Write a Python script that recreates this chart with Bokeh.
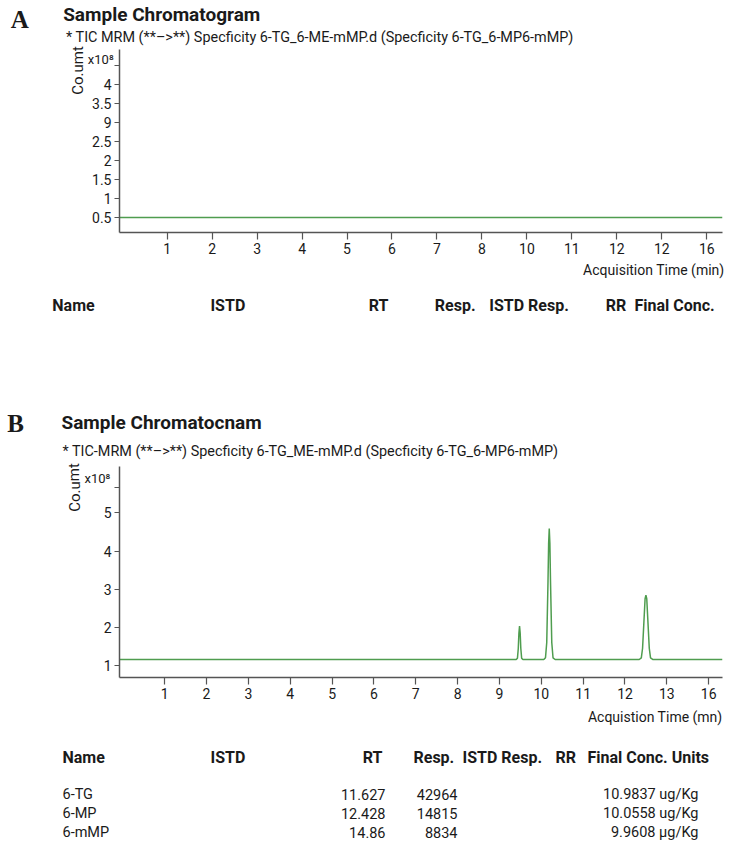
from bokeh.plotting import figure
from bokeh.models import Range1d, FixedTicker
from bokeh.layouts import column
from bokeh.core.properties import value
from bokeh.embed import file_html
from bokeh.resources import INLINE

SANS = "Roboto"
SERIF = "Liberation Serif"
TRACE = "#4f9d4f"
AXIS = "#555555"
INK = "#1a1a1a"

# ---------------- panel A: blank chromatogram ----------------
a_trace_t = [-0.06, 13.35]
a_trace_v = [0.5, 0.5]
a_xticks = [1, 2, 3, 4, 5, 6, 7, 8, 9, 10, 11, 12, 13]
a_xlabels = ["1", "2", "3", "4", "5", "6", "7", "8", "10", "11", "12", "12", "16"]
a_yticks = [0.5, 1, 1.5, 2, 2.5, 3, 3.5, 4, 4.5]
a_ylabels = ["0.5", "1", "1.5", "2", "2.5", "9", "3.5", "4", ""]
a_title = "Sample Chromatogram"
a_sub = "* TIC MRM (**\u2013>**) Specficity 6-TG_6-ME-mMP.d (Specficity 6-TG_6-MP6-mMP)"
a_xlabel = "Acquisition Time (min)"
a_cols = ["Name", "ISTD", "RT", "Resp.", "ISTD Resp.", "RR", "Final Conc."]

# ---------------- panel B: spiked sample chromatogram ----------------
b_trace_t = [-0.08,
             9.40, 9.43, 9.45, 9.465, 9.48, 9.495, 9.51, 9.53, 9.56,
             10.06, 10.10, 10.13, 10.16, 10.175, 10.19, 10.205, 10.22, 10.25, 10.28, 10.33,
             12.34, 12.39, 12.42, 12.45, 12.48, 12.50, 12.52, 12.55, 12.58, 12.61, 12.67,
             14.33]
b_trace_v = [1.155,
             1.155, 1.19, 1.45, 1.85, 2.03, 1.85, 1.45, 1.19, 1.155,
             1.155, 1.20, 1.60, 3.20, 4.20, 4.59, 4.20, 3.20, 1.60, 1.20, 1.155,
             1.155, 1.20, 1.45, 2.10, 2.75, 2.84, 2.75, 2.10, 1.45, 1.20, 1.155,
             1.155]
b_xticks = [1, 2, 3, 4, 5, 6, 7, 8, 9, 10, 11, 12, 13, 14]
b_xlabels = ["1", "2", "3", "4", "5", "6", "7", "8", "9", "10", "11", "12", "13", "16"]
b_yticks = [1, 2, 3, 4, 5, 5.68]
b_ylabels = ["1", "2", "3", "4", "5", ""]
b_title = "Sample Chromatocnam"
b_sub = "* TIC-MRM (**\u2013>**) Specficity 6-TG_ME-mMP.d (Specficity 6-TG_6-MP6-mMP)"
b_xlabel = "Acquistion Time (mn)"
b_cols = ["Name", "ISTD", "RT", "Resp.", "ISTD Resp.", "RR", "Final Conc. Units"]

# quantitation results
names = ["6-TG", "6-MP", "6-mMP"]
rt = ["11.627", "12.428", "14.86"]
resp = [42964, 14815, 8834]
final_conc = ["10.9837", "10.0558", "9.9608"]
units = ["ug/Kg", "ug/Kg", "\u00b5g/Kg"]


def make_panel(height, frame, x_rng, y_rng, xticks, xlabels, yticks, ylabels, t, v):
    left, right, top, bottom, offset = frame
    p = figure(width=750, height=height, output_backend="svg", toolbar_location=None,
               x_range=Range1d(*x_rng), y_range=Range1d(*y_rng),
               min_border_left=left, min_border_right=750 - right,
               min_border_top=top - offset, min_border_bottom=offset + height - bottom)
    # page-pixel coordinate system for the texts around the plot area
    p.extra_x_ranges = {"px": Range1d(left, right)}
    p.extra_y_ranges = {"px": Range1d(bottom, top)}
    p.outline_line_color = None
    p.grid.visible = False
    for ax, ticks, labels, out in ((p.xaxis[0], xticks, xlabels, 7), (p.yaxis[0], yticks, ylabels, 5)):
        ax.ticker = FixedTicker(ticks=ticks)
        ax.major_label_overrides = {tk: lb for tk, lb in zip(ticks, labels)}
        ax.axis_line_color = AXIS
        ax.axis_line_width = 1.5
        ax.major_tick_line_color = AXIS
        ax.major_tick_line_width = 1.2
        ax.major_tick_out = out
        ax.major_tick_in = 0
        ax.minor_tick_line_color = None
        ax.major_label_text_font = SANS
        ax.major_label_text_font_size = "14px"
        ax.major_label_text_color = INK
        ax.major_label_standoff = 3
    p.line(t, v, line_color=TRACE, line_width=1.5)
    return p


def put(p, text, x, y, size="13px", style="normal", align="left", font=SANS, angle=0.0):
    r = p.text(x=[x], y=[y], text=[text], x_range_name="px", y_range_name="px",
               text_font=value(font), text_font_size=value(size), text_font_style=style,
               text_color=INK, text_align=align, text_baseline="middle", angle=angle)
    r.level = "overlay"


# ---------- panel A ----------
pa = make_panel(360, (116, 726, 49, 232, 0), (-0.06, 13.35), (0.105, 4.92),
                a_xticks, a_xlabels, a_yticks, a_ylabels, a_trace_t, a_trace_v)
put(pa, "A", 15, 19, size="25px", style="bold", align="center", font=SERIF)
put(pa, a_title, 59, 14, size="19px", style="bold")
put(pa, a_sub, 62, 37, size="14.4px")
put(pa, "x10\u2078", 84, 59, size="13px")
put(pa, "Co.umt", 74, 70, size="15px", align="center", angle=1.5708)
put(pa, a_xlabel, 728, 269, size="14px", align="right")
a_col_x = [48, 208, 388, 435, 490, 608, 637]
a_col_al = ["left", "left", "right", "left", "left", "left", "left"]
for txt, cx, al in zip(a_cols, a_col_x, a_col_al):
    put(pa, txt, cx, 305, size="16px", style="bold", align=al)

# ---------- panel B ----------
pb = make_panel(508, (119, 722, 466, 677, 360), (-0.08, 14.33), (0.683, 6.22),
                b_xticks, b_xlabels, b_yticks, b_ylabels, b_trace_t, b_trace_v)
put(pb, "B", 15, 423, size="25px", style="bold", align="center", font=SERIF)
put(pb, b_title, 61, 422, size="19px", style="bold")
put(pb, b_sub, 62, 451, size="14.4px")
put(pb, "x10\u2078", 84, 478, size="13px")
put(pb, "Co.umt", 74, 487, size="15px", align="center", angle=1.5708)
put(pb, b_xlabel, 722, 716, size="14px", align="right")
b_col_x = [62, 210, 382, 413, 462, 555, 587]
b_col_al = ["left", "left", "right", "left", "left", "left", "left"]
for txt, cx, al in zip(b_cols, b_col_x, b_col_al):
    put(pb, txt, cx, 757, size="16px", style="bold", align=al)

row_y = [794, 813, 832]
for nm, r, rs, fc, un, yy in zip(names, rt, resp, final_conc, units, row_y):
    put(pb, nm, 62, yy, size="14.5px")
    put(pb, r, 385, yy, size="14.5px", align="right")
    put(pb, str(rs), 457, yy, size="14.5px", align="right")
    put(pb, f"{fc} {un}", 698, yy, size="14.5px", align="right")

layout = column(pa, pb, spacing=0)
open("out.html", "w").write(file_html(layout, INLINE))
